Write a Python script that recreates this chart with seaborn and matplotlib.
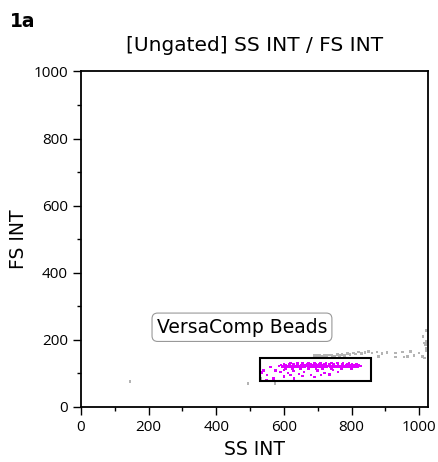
import matplotlib.pyplot as plt
import matplotlib.patches as mpatches
import seaborn as sns
import pandas as pd

# gated events (VersaComp Beads), magenta
bead_ss = [585, 598, 610, 622, 634, 646, 658, 670, 682, 694, 706, 718, 730, 742, 754, 766, 778, 790, 802, 814, 826,
           592, 604, 616, 628, 640, 652, 664, 676, 688, 700, 712, 724, 736, 748, 760, 772, 784, 796, 808, 820,
           600, 615, 628, 641, 655, 668, 680, 693, 705, 719, 733, 747, 760, 774, 788, 801, 815,
           595, 608, 620, 633, 645, 657, 671, 684, 697, 709, 722, 736, 749, 763, 776, 790, 805, 818,
           602, 614, 626, 639, 651, 663, 677, 690, 703, 715, 728, 742, 755, 769, 782, 796, 810,
           620, 640, 655, 672, 690, 708, 725, 740, 758, 775, 792,
           605, 625, 650, 672, 695, 715, 740, 770, 800,
           560, 575, 590, 612, 628, 645, 660, 680, 700, 720, 745, 760, 550, 548, 570, 600, 630, 655,
           690, 710, 735, 600, 540, 535, 620]
bead_fs = [122] * 21 + [124] * 20 + [127] * 17 + [118] * 18 + [120] * 17 + [130] * 11 + [114] * 9 + \
          [118, 108, 104, 100, 106, 98, 104, 95, 108, 100, 110, 104, 95, 80, 84, 90, 84, 92,
           88, 94, 96, 110, 108, 102, 95]

# ungated events, gray
other_ss = [690, 698, 705, 712, 720, 728, 735, 742, 750, 758, 765, 772, 780, 788, 795, 805, 812, 820,
            830, 840, 850, 860, 875, 890, 905, 930, 950, 965, 975, 985, 1000, 1010, 930, 955, 880,
            1015, 1018, 1020, 1022, 1015, 1020, 1012, 1022, 145, 494, 574, 530]
other_fs = [152, 152, 153, 151, 153, 152, 154, 153, 151, 155, 152, 156, 153, 158, 155, 160, 157, 163,
            158, 162, 165, 160, 163, 158, 162, 160, 163, 150, 165, 152, 160, 150, 148, 148, 150,
            190, 185, 175, 195, 145, 168, 210, 228, 76, 70, 70, 85]

gate_x = [530, 857]
gate_y = [77, 144]

df = pd.DataFrame({
    'SS INT': bead_ss + other_ss,
    'FS INT': bead_fs + other_fs,
    'pop': ['beads'] * len(bead_ss) + ['other'] * len(other_ss),
})

sns.set_style('ticks')
plt.rcParams['font.family'] = ['DejaVu Sans']
plt.rcParams['text.color'] = 'black'
plt.rcParams['axes.labelcolor'] = 'black'

fig = plt.figure(figsize=(4.38, 4.62), dpi=100)
ax = fig.add_axes([0.185, 0.1197, 0.792, 0.727])

sns.scatterplot(data=df, x='SS INT', y='FS INT', hue='pop',
                palette={'beads': '#e000ff', 'other': '#b4b4b4'},
                s=3.5, marker='s', linewidth=0, legend=False, ax=ax)

gate = mpatches.Rectangle((gate_x[0], gate_y[0]), gate_x[1] - gate_x[0], gate_y[1] - gate_y[0],
                          fill=False, edgecolor='black', linewidth=1.5, zorder=3)
ax.add_patch(gate)
ax.text(476, 237, 'VersaComp Beads', fontsize=13.5, ha='center', va='center', color='black',
        bbox=dict(boxstyle='round,pad=0.25,rounding_size=0.3', fc='white', ec='#999999', lw=0.8))

ax.set_xlim(0, 1026)
ax.set_ylim(0, 1002)
ax.set_xticks([0, 200, 400, 600, 800, 1000])
ax.set_yticks([0, 200, 400, 600, 800, 1000])
ax.set_xticks(range(100, 1000, 200), minor=True)
ax.set_yticks(range(100, 1000, 200), minor=True)
ax.tick_params(which='major', length=6, width=1, labelsize=11, direction='out',
               color='black', labelcolor='black')
ax.tick_params(which='minor', length=3, width=1, color='black')
for lab in ax.get_xticklabels() + ax.get_yticklabels():
    lab.set_family(['Open Sans', 'DejaVu Sans'])
for sp in ax.spines.values():
    sp.set_visible(True)
    sp.set_color('black')
    sp.set_linewidth(1.3)

ax.set_xlabel('SS INT', fontsize=13.5, color='black')
ax.set_ylabel('FS INT', fontsize=13.5, color='black')
ax.set_title('[Ungated] SS INT / FS INT', fontsize=14.5, pad=14, color='black')
fig.text(0.023, 0.942, '1a', fontsize=13.5, fontweight='bold', color='black')

fig.savefig('out.png', dpi=100)
